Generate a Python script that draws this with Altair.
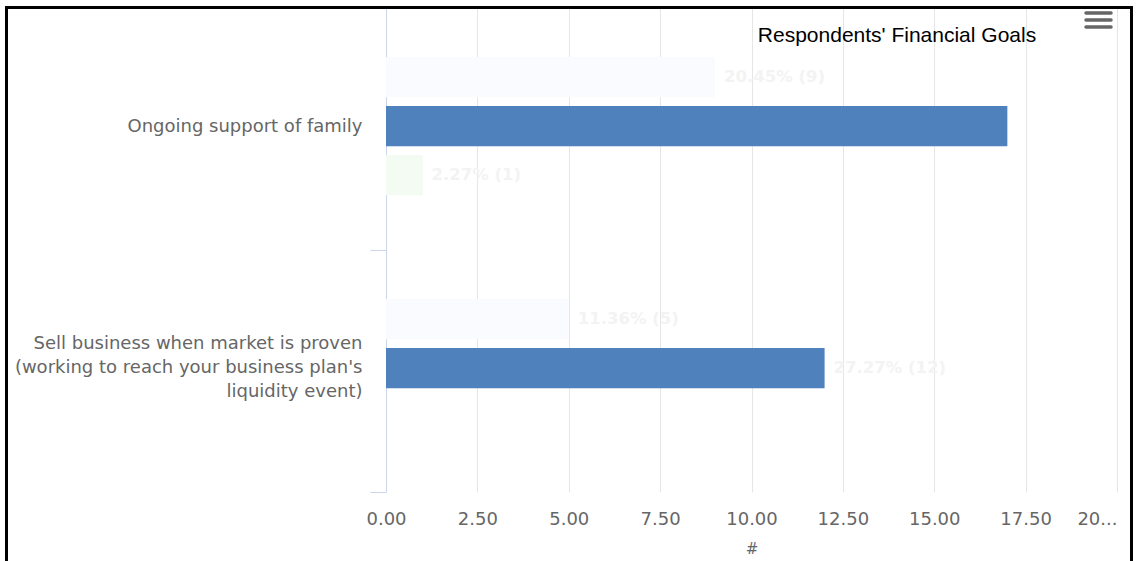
import altair as alt
import pandas as pd

# Survey answers: counts per goal for each respondent group
categories = [
    "Ongoing support of family",
    "Sell business when market is proven (working to reach your business plan's liquidity event)",
]
series = ["Group 1", "Group 2", "Group 3"]
group1_counts = [9, 5]
group2_counts = [17, 12]
group3_counts = [1, 0]
group1_labels = ["20.45% (9)", "11.36% (5)"]
group2_labels = ["", "27.27% (12)"]
group3_labels = ["2.27% (1)", ""]

x_ticks = [0, 2.5, 5, 7.5, 10, 12.5, 15, 17.5, 20]
chart_title = "Respondents' Financial Goals"

rows = []
for name, counts, labels in [
    (series[0], group1_counts, group1_labels),
    (series[1], group2_counts, group2_labels),
    (series[2], group3_counts, group3_labels),
]:
    for cat, c, lab in zip(categories, counts, labels):
        rows.append({"goal": cat, "group": name, "count": c, "label": lab})
df = pd.DataFrame(rows)

label_font = "DejaVu Sans"
axis_grey = "#666666"

# an empty leading slot pushes the three bars down inside each band
offset_domain = ["_lead"] + series

wrap_expr = (
    'datum.label == "' + categories[1] + '" ? '
    '["Sell business when market is proven", '
    '"(working to reach your business plan\'s", "liquidity event)"] : datum.label'
)

y_enc = alt.Y(
    "goal:N",
    sort=categories,
    scale=alt.Scale(paddingInner=0, paddingOuter=0),
    axis=alt.Axis(
        title=None,
        domainColor="#ccd6eb",
        tickColor="#ccd6eb",
        tickSize=16,
        tickBand="extent",
        labelPadding=8,
        labelFont=label_font,
        labelFontSize=18,
        labelColor=axis_grey,
        labelLimit=500,
        labelLineHeight=24,
        labelExpr=wrap_expr,
        labelOffset={
            "condition": {"test": 'datum.value == "' + categories[1] + '"', "value": -28},
            "value": -3,
        },
        grid=False,
    ),
)
y_off = alt.YOffset(
    "group:N",
    scale=alt.Scale(domain=offset_domain, paddingInner=0.18, paddingOuter=0.56, align=0),
)
x_enc = alt.X(
    "count:Q",
    scale=alt.Scale(domain=[0, 20], nice=False),
    axis=alt.Axis(
        values=x_ticks,
        format=".2f",
        labelExpr='datum.value == 20 ? "20..." : datum.label',
        labelAlign={"condition": {"test": "datum.value == 20", "value": "right"}, "value": "center"},
        title="#",
        titleFont=label_font,
        titleFontSize=15,
        titleFontWeight="normal",
        titleColor=axis_grey,
        titlePadding=13,
        labelFont=label_font,
        labelFontSize=18,
        labelColor=axis_grey,
        labelPadding=18,
        domain=False,
        ticks=False,
        gridColor="#e6e6e6",
        labelOverlap=False,
    ),
)

base = alt.Chart(df)
bars = base.mark_bar().encode(
    y=y_enc,
    yOffset=y_off,
    x=x_enc,
    color=alt.Color(
        "group:N",
        sort=series,
        scale=alt.Scale(domain=series, range=["#fafbfe", "#4f81bd", "#f3fbf3"]),
        legend=None,
    ),
)
labels = base.mark_text(
    align="left", baseline="middle", dx=9, font=label_font, fontSize=16.5,
    fontWeight="bold", color="#f3f3f3",
).encode(y=alt.Y("goal:N", sort=categories), yOffset=alt.YOffset("group:N"),
         x="count:Q", text="label:N")

one = pd.DataFrame({"k": [0]})
title = alt.Chart(pd.DataFrame({"t": [chart_title]})).mark_text(
    font="Liberation Sans", fontSize=21, color="#000000", align="center", baseline="middle"
).encode(text="t:N", x=alt.value(511), y=alt.value(28))

menu = [
    alt.Chart(one).mark_rule(color="#666666", strokeWidth=3.5, strokeCap="round").encode(
        x=alt.value(700), x2=alt.value(725), y=alt.value(yy)
    )
    for yy in (5, 12, 19)
]

frame = alt.Chart(one).mark_rect(
    fill=None, fillOpacity=0, stroke="#000000", strokeWidth=3
).encode(x=alt.value(-379.5), x2=alt.value(745.5), y=alt.value(-0.5), y2=alt.value(600))

chart = alt.layer(bars, labels, title, *menu, frame).properties(
    width=731,
    height=484,
    padding={"left": 386, "top": 8, "right": 19, "bottom": 69},
    autosize=alt.AutoSizeParams(type="none"),
    background="#ffffff",
).configure_view(stroke=None)

chart.save("out.html", embed_options={"renderer": "svg", "actions": False})
